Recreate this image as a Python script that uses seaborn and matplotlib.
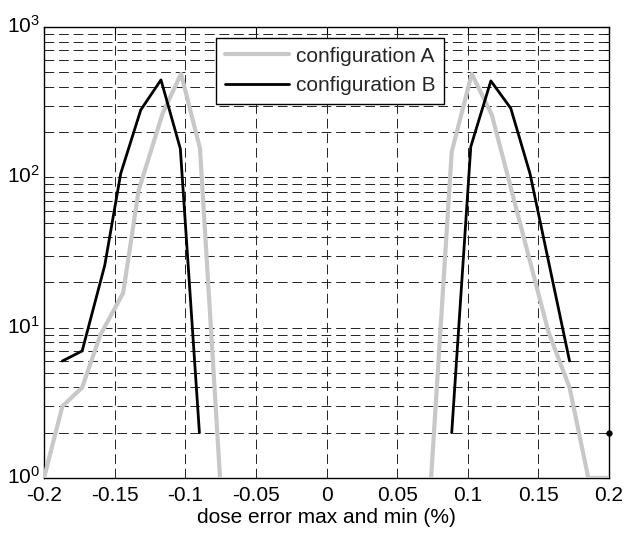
import pandas as pd
import matplotlib
matplotlib.use('Agg')
import matplotlib.pyplot as plt
import matplotlib.transforms as mtransforms
import seaborn as sns

# values (x = dose error in %, y = counts)
a_left_x = [-0.2, -0.187, -0.173, -0.16, -0.144, -0.133, -0.116, -0.103, -0.0896, -0.0754]
a_left_y = [1, 3, 4, 9, 17, 82, 267, 488, 156, 1]
a_right_x = [0.074, 0.0886, 0.1028, 0.117, 0.157, 0.172, 0.1853, 0.2]
a_right_y = [1, 148, 488, 260, 9.4, 4, 1, 1]

b_left_x = [-0.187, -0.173, -0.157, -0.1457, -0.1315, -0.1172, -0.1035, -0.09]
b_left_y = [6, 7, 26, 106, 281, 445, 155, 2]
b_right_x = [0.0886, 0.1021, 0.1163, 0.1304, 0.144, 0.172]
b_right_y = [2, 160, 438, 288, 106, 6]

dot_x = [0.2]
dot_y = [2]

x_ticks = [-0.2, -0.15, -0.1, -0.05, 0, 0.05, 0.1, 0.15, 0.2]
x_tick_labels = ['-0.2', '-0.15', '-0.1', '-0.05', '0', '0.05', '0.1', '0.15', '0.2']

sns.set_style('white')
plt.rcParams['font.family'] = ['Liberation Sans', 'DejaVu Sans']
plt.rcParams['mathtext.fontset'] = 'custom'
plt.rcParams['mathtext.rm'] = 'Liberation Sans'
plt.rcParams['mathtext.it'] = 'Liberation Sans'
plt.rcParams['lines.scale_dashes'] = False

fs = 15

fig = plt.figure(figsize=(6.26, 5.33), dpi=100)
ax = fig.add_axes([0.0703, 0.1032, 0.9027, 0.8461])

segments = [
    ('configuration A', a_left_x, a_left_y, '#c8c8c8', 3.0),
    ('configuration A', a_right_x, a_right_y, '#c8c8c8', 3.0),
    ('configuration B', b_left_x, b_left_y, 'black', 2.0),
    ('configuration B', b_right_x, b_right_y, 'black', 2.0),
]
seen = set()
for name, xs, ys, col, lw in segments:
    df = pd.DataFrame({'x': xs, 'y': ys})
    lab = None if name in seen else name
    seen.add(name)
    sns.lineplot(data=df, x='x', y='y', color=col, linewidth=lw, label=lab,
                 estimator=None, sort=False, ax=ax, zorder=3)

ax.plot(dot_x, dot_y, 'o', color='black', ms=3.5, clip_on=False, zorder=4)

ax.set_yscale('log')
ax.set_xlim(-0.2, 0.2)
ax.set_ylim(1, 1000)
ax.set_xticks(x_ticks)
ax.set_xticklabels(x_tick_labels)

ax.grid(True, which='both', axis='y', color='#222222', linestyle=(0, (7, 3.5)), linewidth=0.7)
ax.grid(True, which='major', axis='x', color='#222222', linestyle=(0, (7, 3.5)), linewidth=0.7)

ax.tick_params(which='both', direction='in', top=True, right=True, labelsize=fs, colors='black')
ax.tick_params(which='major', length=5)
ax.tick_params(which='minor', length=3)
ax.tick_params(axis='x', pad=6)
ax.tick_params(axis='y', pad=3)
for sp in ax.spines.values():
    sp.set_color('black')
    sp.set_linewidth(1.0)

# nudge the y tick labels up a little so 10^0 clears -0.2
fig.canvas.draw()
shift = mtransforms.ScaledTranslation(0, 3 / 100, fig.dpi_scale_trans)
for lbl in ax.get_yticklabels():
    lbl.set_transform(lbl.get_transform() + shift)

ax.set_xlabel('dose error max and min (%)', fontsize=fs, color='black', labelpad=2)
ax.set_ylabel('')

handles, labels = ax.get_legend_handles_labels()
leg = ax.legend(handles, labels, loc='upper right', bbox_to_anchor=(0.708, 0.976),
                borderaxespad=0, fontsize=fs, handlelength=3.1, handletextpad=0.3,
                fancybox=False, framealpha=1, edgecolor='black', borderpad=0.42,
                labelspacing=0.5)
leg.get_frame().set_linewidth(1.0)

fig.savefig('out.png', dpi=100)
